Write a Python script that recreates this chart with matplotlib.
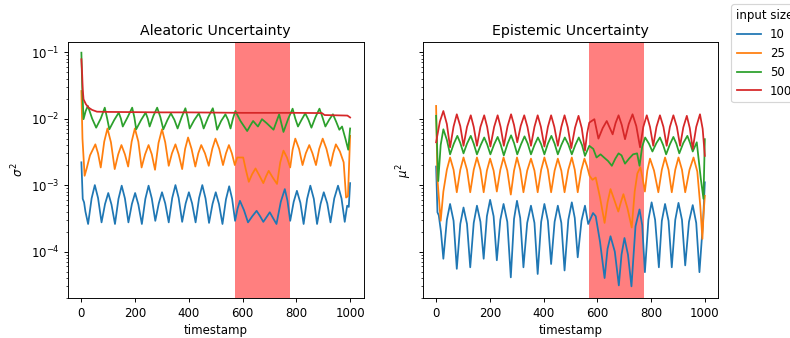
import matplotlib
matplotlib.use("Agg")
import matplotlib.pyplot as plt

sizes = ["10", "25", "50", "100"]
colors = ["tab:blue", "tab:orange", "tab:green", "tab:red"]
shade = (570, 775)

# (timestamp, value) pairs
# aleatoric uncertainty, sigma^2
ale_10 = [(0, 2.2e-3), (5, 6.2e-4), (10, 5.5e-4), (15, 4.0e-4), (25, 2.6e-4), (38, 6.3e-4),
          (50, 1.0e-3), (62, 6.4e-4), (75, 2.75e-4), (88, 5.2e-4), (100, 7.6e-4), (112, 5.1e-4),
          (125, 2.6e-4), (138, 6.2e-4), (150, 9.8e-4), (162, 6.3e-4), (175, 2.75e-4), (188, 5.2e-4),
          (200, 7.6e-4), (212, 5.1e-4), (225, 2.6e-4), (238, 6.2e-4), (250, 9.8e-4), (262, 6.3e-4),
          (275, 2.9e-4), (288, 5.3e-4), (300, 7.8e-4), (312, 5.3e-4), (325, 2.75e-4), (338, 6.4e-4),
          (350, 1.0e-3), (362, 6.4e-4), (375, 2.8e-4), (388, 5.3e-4), (400, 7.8e-4), (412, 5.3e-4),
          (425, 2.75e-4), (438, 6.4e-4), (450, 1.0e-3), (462, 6.3e-4), (475, 2.7e-4), (488, 5.2e-4),
          (500, 7.8e-4), (512, 5.2e-4), (525, 2.6e-4), (538, 6.1e-4), (550, 9.6e-4), (561, 6.2e-4),
          (572, 2.9e-4), (581, 4.4e-4), (590, 5.8e-4), (605, 4.2e-4), (620, 2.75e-4), (636, 3.4e-4),
          (652, 4.1e-4), (665, 3.4e-4), (677, 2.8e-4), (689, 3.3e-4), (701, 3.9e-4), (713, 3.2e-4),
          (726, 2.6e-4), (742, 5.6e-4), (757, 8.7e-4), (767, 5.8e-4), (777, 2.9e-4), (790, 5.6e-4),
          (802, 8.2e-4), (815, 5.4e-4), (827, 2.6e-4), (840, 6.2e-4), (852, 9.8e-4), (865, 6.2e-4),
          (877, 2.6e-4), (890, 5.2e-4), (902, 7.8e-4), (915, 5.3e-4), (927, 2.75e-4), (941, 6.3e-4),
          (955, 9.8e-4), (968, 6.3e-4), (980, 2.8e-4), (989, 4.9e-4), (995, 4.7e-4), (1000, 1.07e-3)]

ale_25 = [(0, 2.6e-2), (4, 5.0e-3), (12, 1.38e-3), (20, 1.8e-3), (32, 2.8e-3), (52, 4.1e-3),
          (62, 3.0e-3), (72, 1.84e-3), (85, 4.5e-3), (97, 7.1e-3), (110, 4.4e-3), (124, 1.74e-3),
          (137, 2.9e-3), (149, 4.0e-3), (162, 2.9e-3), (174, 1.9e-3), (187, 4.5e-3), (199, 7.1e-3),
          (212, 4.5e-3), (224, 1.84e-3), (237, 2.9e-3), (250, 4.0e-3), (262, 2.9e-3), (274, 1.7e-3),
          (287, 4.3e-3), (300, 6.9e-3), (312, 4.4e-3), (325, 1.95e-3), (337, 3.0e-3), (350, 4.1e-3),
          (362, 2.9e-3), (375, 1.74e-3), (386, 3.5e-3), (397, 5.2e-3), (410, 3.5e-3), (424, 1.9e-3),
          (435, 3.0e-3), (446, 4.0e-3), (460, 3.0e-3), (474, 1.95e-3), (487, 3.5e-3), (499, 5.0e-3),
          (513, 3.5e-3), (527, 2.0e-3), (538, 3.0e-3), (549, 4.0e-3), (560, 3.0e-3), (571, 2.0e-3),
          (580, 2.6e-3), (602, 2.6e-3), (612, 1.7e-3), (623, 1.12e-3), (635, 1.45e-3), (648, 1.78e-3),
          (662, 1.4e-3), (677, 1.07e-3), (687, 1.35e-3), (697, 1.64e-3), (712, 1.3e-3), (728, 1.04e-3),
          (740, 2.2e-3), (752, 3.3e-3), (765, 2.6e-3), (777, 1.84e-3), (786, 3.4e-3), (796, 5.0e-3),
          (810, 3.5e-3), (823, 2.0e-3), (835, 3.0e-3), (848, 4.0e-3), (860, 3.0e-3), (873, 2.0e-3),
          (885, 3.5e-3), (898, 5.0e-3), (912, 3.5e-3), (927, 1.95e-3), (937, 3.0e-3), (947, 4.1e-3),
          (962, 3.2e-3), (976, 2.2e-3), (985, 6.5e-4), (992, 6.8e-4), (1000, 5.5e-3)]

ale_50 = [(0, 9.8e-2), (3, 3.0e-2), (8, 9.8e-3), (16, 1.3e-2), (24, 1.55e-2), (40, 1.0e-2),
          (55, 7.3e-3), (72, 1.0e-2), (87, 1.46e-2), (96, 1.0e-2), (104, 6.9e-3), (122, 9.5e-3),
          (139, 1.23e-2), (147, 1.0e-2), (154, 7.6e-3), (172, 1.05e-2), (189, 1.46e-2), (197, 1.05e-2),
          (204, 6.9e-3), (222, 9.5e-3), (239, 1.23e-2), (247, 1.0e-2), (254, 7.6e-3), (268, 1.1e-2),
          (282, 1.46e-2), (294, 1.05e-2), (305, 6.9e-3), (320, 9.5e-3), (333, 1.2e-2), (346, 9.6e-3),
          (358, 7.1e-3), (373, 1.05e-2), (387, 1.43e-2), (395, 1.05e-2), (403, 7.1e-3), (420, 9.5e-3),
          (437, 1.2e-2), (446, 9.6e-3), (455, 7.1e-3), (472, 1.05e-2), (489, 1.43e-2), (497, 1.05e-2),
          (505, 6.8e-3), (520, 9.2e-3), (536, 1.16e-2), (546, 9.5e-3), (555, 7.1e-3), (564, 1.0e-2),
          (573, 1.3e-2), (592, 9.2e-3), (617, 6.5e-3), (628, 7.8e-3), (639, 9.2e-3), (657, 7.6e-3),
          (672, 9.8e-3), (690, 8.5e-3), (715, 6.8e-3), (726, 9.0e-3), (736, 1.16e-2), (744, 8.5e-3),
          (752, 6.3e-3), (770, 1.0e-2), (786, 1.41e-2), (796, 1.0e-2), (806, 7.6e-3), (820, 9.7e-3),
          (833, 1.2e-2), (845, 9.6e-3), (856, 7.3e-3), (871, 1.05e-2), (886, 1.41e-2), (897, 1.05e-2),
          (908, 7.6e-3), (922, 9.6e-3), (936, 1.16e-2), (948, 9.0e-3), (960, 6.8e-3), (970, 7.6e-3),
          (983, 4.9e-3), (993, 3.4e-3), (1000, 7.1e-3)]

ale_100 = [(0, 7.8e-2), (3, 4.5e-2), (5, 2.75e-2), (8, 1.95e-2), (17, 1.64e-2), (27, 1.46e-2),
           (40, 1.35e-2), (58, 1.27e-2), (100, 1.26e-2), (200, 1.25e-2), (300, 1.24e-2),
           (400, 1.24e-2), (500, 1.23e-2), (600, 1.22e-2), (700, 1.22e-2), (800, 1.22e-2),
           (895, 1.21e-2), (905, 1.13e-2), (950, 1.12e-2), (990, 1.11e-2), (1000, 1.04e-2)]

# epistemic uncertainty, mu^2
epi_10 = [(0, 1.9e-3), (5, 3.9e-4), (10, 3.5e-4), (18, 2.0e-4), (27, 7.8e-5), (40, 3.0e-4),
          (52, 5.2e-4), (65, 2.9e-4), (77, 5.5e-5), (90, 2.6e-4), (102, 4.6e-4), (115, 2.6e-4),
          (127, 5.8e-5), (140, 2.7e-4), (152, 4.9e-4), (165, 2.8e-4), (177, 7.8e-5), (189, 3.4e-4),
          (201, 6.0e-4), (214, 3.4e-4), (226, 7.4e-5), (239, 3.0e-4), (251, 5.2e-4), (265, 2.8e-4),
          (278, 4.1e-5), (290, 3.1e-4), (301, 5.8e-4), (313, 3.2e-4), (325, 5.8e-5), (339, 2.7e-4),
          (353, 4.9e-4), (366, 2.7e-4), (378, 4.6e-5), (391, 2.8e-4), (403, 5.2e-4), (416, 2.9e-4),
          (428, 6.5e-5), (441, 2.8e-4), (453, 4.9e-4), (466, 2.7e-4), (478, 5.2e-5), (492, 3.0e-4),
          (505, 5.5e-4), (516, 3.2e-4), (527, 8.2e-5), (541, 2.9e-4), (554, 4.9e-4), (566, 2.6e-4),
          (584, 3.8e-4), (594, 3.4e-4), (610, 1.4e-4), (627, 4.0e-5), (638, 1.1e-4), (649, 1.7e-4),
          (665, 1.0e-4), (680, 3.1e-5), (690, 9.0e-5), (701, 1.6e-4), (714, 9.0e-5), (727, 3.0e-5),
          (742, 2.4e-4), (757, 4.3e-4), (767, 2.5e-4), (777, 4.9e-5), (790, 3.0e-4), (802, 5.5e-4),
          (815, 3.0e-4), (829, 5.8e-5), (840, 2.9e-4), (852, 5.2e-4), (865, 2.9e-4), (877, 5.8e-5),
          (890, 3.0e-4), (902, 5.4e-4), (915, 3.0e-4), (927, 6.2e-5), (941, 2.8e-4), (955, 5.0e-4),
          (968, 2.7e-4), (980, 4.9e-5), (994, 3.1e-4), (1000, 1.1e-3)]

epi_25 = [(0, 1.55e-2), (5, 1.23e-3), (17, 2.9e-4), (27, 8.0e-4), (40, 1.7e-3), (52, 2.6e-3),
          (65, 1.7e-3), (77, 7.8e-4), (90, 1.7e-3), (102, 2.6e-3), (115, 1.7e-3), (127, 7.8e-4),
          (140, 1.7e-3), (152, 2.6e-3), (165, 1.7e-3), (177, 7.8e-4), (189, 1.65e-3), (201, 2.5e-3),
          (214, 1.65e-3), (226, 8.0e-4), (239, 1.7e-3), (251, 2.6e-3), (265, 1.65e-3), (278, 7.2e-4),
          (290, 1.65e-3), (301, 2.6e-3), (313, 1.7e-3), (325, 7.8e-4), (339, 1.65e-3), (353, 2.5e-3),
          (366, 1.65e-3), (378, 7.8e-4), (391, 1.7e-3), (403, 2.6e-3), (416, 1.7e-3), (428, 7.8e-4),
          (441, 1.65e-3), (453, 2.5e-3), (466, 1.65e-3), (478, 7.8e-4), (492, 1.7e-3), (505, 2.6e-3),
          (516, 1.7e-3), (527, 7.8e-4), (540, 1.65e-3), (552, 2.5e-3), (562, 1.9e-3), (571, 1.38e-3),
          (582, 1.2e-3), (594, 1.3e-3), (610, 6.5e-4), (627, 2.7e-4), (638, 5.5e-4), (649, 8.7e-4),
          (663, 6.0e-4), (678, 4.0e-4), (688, 5.6e-4), (697, 7.3e-4), (712, 4.5e-4), (728, 2.3e-4),
          (739, 8.0e-4), (749, 1.5e-3), (760, 1.85e-3), (768, 1.3e-3), (777, 8.0e-4), (786, 1.65e-3),
          (796, 2.5e-3), (811, 1.65e-3), (827, 7.8e-4), (840, 1.7e-3), (852, 2.6e-3), (865, 1.7e-3),
          (877, 7.8e-4), (890, 1.7e-3), (902, 2.6e-3), (915, 1.7e-3), (927, 7.8e-4), (943, 1.7e-3),
          (958, 2.6e-3), (972, 1.6e-3), (983, 4.9e-4), (991, 1.55e-4), (995, 3.5e-4), (1000, 6.9e-4)]

epi_50 = [(0, 1.1e-2), (8, 1.15e-3), (17, 4.0e-3), (27, 6.9e-3), (40, 4.8e-3), (52, 2.9e-3),
          (66, 4.2e-3), (79, 5.5e-3), (90, 4.3e-3), (102, 3.0e-3), (115, 4.2e-3), (129, 5.5e-3),
          (140, 4.2e-3), (152, 2.9e-3), (166, 4.0e-3), (179, 5.2e-3), (190, 4.1e-3), (202, 2.9e-3),
          (216, 4.1e-3), (229, 5.3e-3), (240, 4.1e-3), (252, 2.8e-3), (266, 4.2e-3), (279, 5.6e-3),
          (290, 4.3e-3), (302, 2.9e-3), (316, 4.1e-3), (329, 5.4e-3), (341, 4.2e-3), (353, 2.9e-3),
          (366, 4.0e-3), (379, 5.2e-3), (391, 4.1e-3), (403, 2.9e-3), (416, 4.2e-3), (429, 5.5e-3),
          (441, 4.2e-3), (453, 2.9e-3), (466, 4.0e-3), (479, 5.2e-3), (492, 4.1e-3), (505, 2.9e-3),
          (518, 4.0e-3), (531, 5.2e-3), (543, 4.0e-3), (554, 2.75e-3), (570, 3.9e-3), (585, 3.5e-3),
          (597, 2.6e-3), (612, 2.9e-3), (625, 2.6e-3), (640, 2.3e-3), (654, 1.95e-3), (667, 2.5e-3),
          (679, 3.0e-3), (690, 2.8e-3), (703, 2.1e-3), (718, 2.5e-3), (733, 2.9e-3), (748, 3.0e-3),
          (757, 1.95e-3), (767, 3.8e-3), (778, 5.2e-3), (792, 4.2e-3), (805, 3.2e-3), (820, 4.3e-3),
          (833, 5.2e-3), (845, 4.0e-3), (856, 2.9e-3), (870, 4.1e-3), (883, 5.3e-3), (894, 4.2e-3),
          (905, 3.0e-3), (920, 4.3e-3), (935, 5.5e-3), (945, 4.3e-3), (955, 3.2e-3), (970, 4.4e-3),
          (985, 1.25e-3), (995, 6.2e-4), (1000, 4.9e-3)]

epi_100 = [(0, 4.4e-3), (14, 9.0e-3), (27, 1.3e-2), (40, 8.3e-3), (52, 3.7e-3), (65, 7.6e-3),
           (77, 1.16e-2), (90, 7.7e-3), (102, 3.9e-3), (115, 7.5e-3), (129, 1.12e-2), (140, 7.5e-3),
           (152, 3.9e-3), (165, 7.5e-3), (179, 1.12e-2), (190, 7.5e-3), (202, 3.8e-3), (216, 7.5e-3),
           (229, 1.12e-2), (240, 7.5e-3), (252, 3.9e-3), (266, 7.7e-3), (279, 1.16e-2), (290, 8.0e-3),
           (302, 4.4e-3), (315, 7.8e-3), (328, 1.12e-2), (340, 7.5e-3), (353, 3.9e-3), (366, 7.5e-3),
           (378, 1.12e-2), (390, 7.5e-3), (403, 3.8e-3), (416, 7.5e-3), (428, 1.12e-2), (440, 7.5e-3),
           (453, 3.9e-3), (466, 7.5e-3), (478, 1.12e-2), (490, 7.4e-3), (503, 3.6e-3), (517, 7.3e-3),
           (530, 1.1e-2), (542, 7.2e-3), (554, 3.3e-3), (562, 6.0e-3), (570, 8.7e-3), (589, 9.8e-3),
           (604, 5.0e-3), (620, 7.2e-3), (635, 9.2e-3), (657, 5.8e-3), (668, 8.6e-3), (679, 1.12e-2),
           (691, 8.0e-3), (703, 4.9e-3), (717, 8.3e-3), (731, 1.16e-2), (745, 7.7e-3), (759, 3.7e-3),
           (771, 7.5e-3), (784, 1.12e-2), (796, 7.5e-3), (808, 3.9e-3), (820, 7.5e-3), (833, 1.12e-2),
           (846, 7.5e-3), (858, 3.9e-3), (870, 7.5e-3), (883, 1.12e-2), (896, 7.5e-3), (908, 3.9e-3),
           (920, 7.4e-3), (933, 1.1e-2), (944, 7.2e-3), (955, 3.5e-3), (968, 7.5e-3), (982, 1.16e-2),
           (992, 7.0e-3), (1000, 2.75e-3)]

aleatoric = [ale_10, ale_25, ale_50, ale_100]
epistemic = [epi_10, epi_25, epi_50, epi_100]

# reference was rendered at a lower dpi, so scale everything down together
fig, (ax1, ax2) = plt.subplots(1, 2, sharey=True, figsize=(9.34, 4.0), dpi=84.6)
fig.subplots_adjust(left=0.086, right=0.909, top=0.876, bottom=0.118, wspace=0.2)

for ax, series in ((ax1, aleatoric), (ax2, epistemic)):
    for pts, c, s in zip(series, colors, sizes):
        t, v = zip(*pts)
        ax.plot(t, v, color=c, label=s)
    ax.axvspan(shade[0], shade[1], color="red", alpha=0.5, lw=0)
    ax.set_yscale("log")
    ax.set_xlabel("timestamp")
    ax.set_xlim(-50, 1050)

ax1.set_ylim(2.0e-5, 0.144)
ax1.set_title("Aleatoric Uncertainty")
ax2.set_title("Epistemic Uncertainty")
ax1.set_ylabel(r"$\sigma^2$")
ax2.set_ylabel(r"$\mu^2$")

ax2.legend(title="input size", loc="upper left", bbox_to_anchor=(1.044, 1.145),
           borderaxespad=0)

fig.savefig("out.png", dpi=84.6)
